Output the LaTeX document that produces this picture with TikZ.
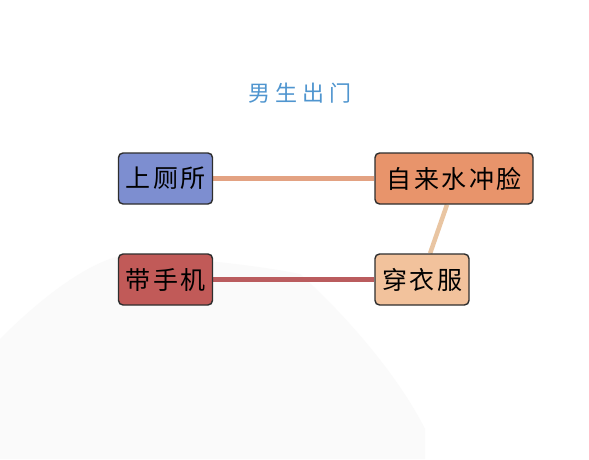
\documentclass[tikz,border=0pt]{standalone}
\usepackage{fontspec}
\newfontfamily\cjk[LetterSpace=10]{Noto Sans CJK SC}
\newfontfamily\cjktitle[LetterSpace=24]{Noto Sans CJK SC}
\usetikzlibrary{calc,backgrounds}
\definecolor{titleblue}{HTML}{4F95CF}
\definecolor{cblue}{HTML}{7D8ED0}
\definecolor{corange}{HTML}{E8946B}
\definecolor{cred}{HTML}{C15A58}
\definecolor{cpeach}{HTML}{F2C29C}
\definecolor{lorange}{HTML}{E3A282}
\definecolor{lred}{HTML}{BA5C5E}
\definecolor{ltan}{HTML}{E9C5A2}
\definecolor{edge}{HTML}{2E2E2E}
\definecolor{fan}{HTML}{FAFAFA}
\tikzset{
  box/.style={draw=edge, line width=1.4pt, rounded corners=4.5pt, minimum height=51pt,
    inner sep=0pt, font=\cjk\fontsize{25}{25}\selectfont, text=black},
  link/.style={line width=5pt},
}
\begin{document}
\begin{tikzpicture}[x=1pt,y=1pt]
\useasboundingbox (0,0) rectangle (589,459);
\node[font=\cjktitle\fontsize{22}{22}\selectfont, text=titleblue] (title) at (300,366) {男生出门};
\node[box, fill=cblue, minimum width=94pt] (wc) at (165.5,280.5) {上厕所};
\node[box, fill=corange, minimum width=158pt] (face) at (454,280.5) {自来水冲脸};
\node[box, fill=cred, minimum width=94pt] (phone) at (165.5,179.5) {带手机};
\node[box, fill=cpeach, minimum width=94pt] (dress) at (422,179.5) {穿衣服};
\begin{scope}[on background layer]
\fill[white] (0,0) rectangle (589,459);
% faint fan in background
\fill[fan] (0,120) .. controls (40,160) and (90,200) .. (130,205)
  .. controls (190,200) and (250,195) .. (300,185)
  .. controls (350,140) and (400,80) .. (425,30)
  -- (425,0) -- (0,0) -- cycle;
\draw[link, lorange] (wc.east) -- (face.west);
\draw[link, lred] (phone.east) -- (dress.west);
\draw[line width=4.5pt, ltan] ($(face.south west)!0.456!(face.south east)$) -- ($(dress.north west)!0.585!(dress.north east)$);
\end{scope}
\end{tikzpicture}
\end{document}
